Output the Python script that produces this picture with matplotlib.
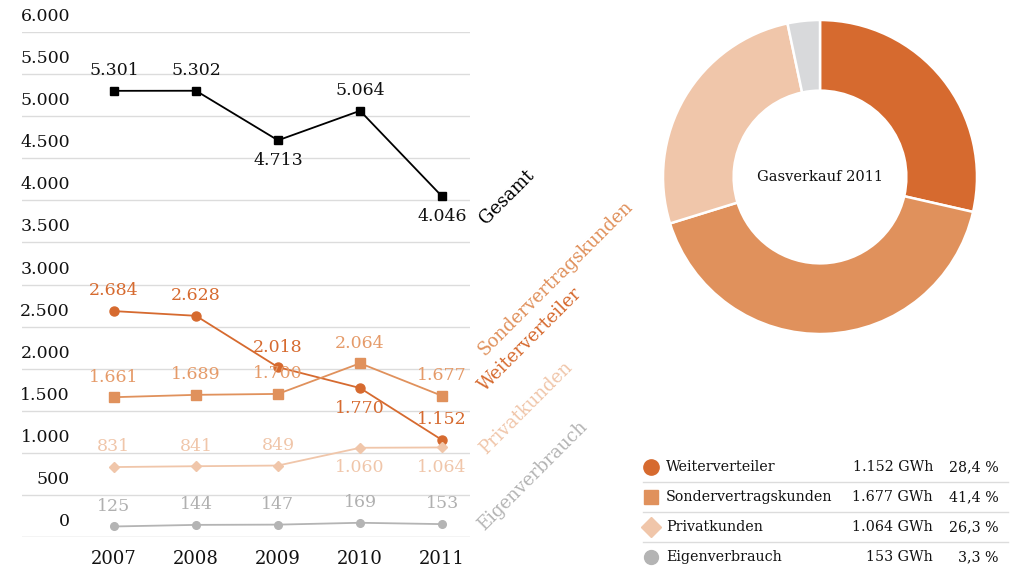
import matplotlib
matplotlib.use("Agg")
import matplotlib.pyplot as plt

plt.rcParams['font.family'] = ['DejaVu Serif']

# data
years = [2007, 2008, 2009, 2010, 2011]
gesamt = [5301, 5302, 4713, 5064, 4046]
weiterverteiler = [2684, 2628, 2018, 1770, 1152]
sondervertrag = [1661, 1689, 1700, 2064, 1677]
privatkunden = [831, 841, 849, 1060, 1064]
eigenverbrauch = [125, 144, 147, 169, 153]

# label above (+1) or below (-1) the point
pos_gesamt = [1, 1, -1, 1, -1]
pos_weiter = [1, 1, 1, -1, 1]
pos_sonder = [1, 1, 1, 1, 1]
pos_privat = [1, 1, 1, -1, -1]
pos_eigen = [1, 1, 1, 1, 1]

y_ticks = [0, 500, 1000, 1500, 2000, 2500, 3000, 3500, 4000, 4500, 5000, 5500, 6000]

pie_labels = ["Weiterverteiler", "Sondervertragskunden", "Privatkunden", "Eigenverbrauch"]
pie_gwh = [1152, 1677, 1064, 153]
pie_share = [28.4, 41.4, 26.3, 3.3]

c_black = "#000000"
c_weiter = "#D66A2F"
c_sonder = "#E0915C"
c_privat = "#F0C6AA"
c_eigen_line = "#B4B4B4"
c_eigen_pie = "#D8D9DB"

W, H = 1011, 566
fig = plt.figure(figsize=(W / 100, H / 100), dpi=100)

# line chart
ax = fig.add_axes([22 / W, (H - 537) / H, 448 / W, 505 / H])
ax.set_xlim(2005.88, 2011.34)
ax.set_ylim(0, 6000)
for s in ax.spines.values():
    s.set_visible(False)
for v in y_ticks:
    ax.axhline(v, color="#DCDCDC" if v else "#C8C8C8", lw=1, zorder=0)
    ax.annotate(f"{v:,}".replace(",", "."), xy=(0, v), xycoords=("axes fraction", "data"),
                xytext=(48 * 0.72, 5), textcoords="offset points",
                ha="right", va="bottom", fontsize=12.5, color="#111111")
ax.set_yticks([])
ax.set_xticks(years)
ax.set_xticklabels([str(y) for y in years], fontsize=13, color="#111111")
ax.tick_params(axis="x", length=0, pad=9)

series = [
    (gesamt, pos_gesamt, c_black, "s", 6, "#111111"),
    (weiterverteiler, pos_weiter, c_weiter, "o", 6.5, c_weiter),
    (sondervertrag, pos_sonder, c_sonder, "s", 6.5, "#E59A68"),
    (privatkunden, pos_privat, c_privat, "D", 5.5, c_privat),
    (eigenverbrauch, pos_eigen, c_eigen_line, "o", 5.5, "#B0B0B0"),
]
for vals, pos, c, mk, ms, tc in series:
    ax.plot(years, vals, color=c, lw=1.3, marker=mk, markersize=ms,
            markerfacecolor=c, markeredgecolor=c, zorder=3, clip_on=False)
    for x, v, p in zip(years, vals, pos):
        ax.annotate(f"{v:,}".replace(",", "."), xy=(x, v), xytext=(0, 14.5 * p),
                    textcoords="offset points", ha="center", va="center",
                    fontsize=12.5, color=tc)

# rotated series names
names = [
    ("Gesamt", 506.7, 197.5, c_black),
    ("Sondervertragskunden", 556, 278, c_sonder),
    ("Weiterverteiler", 530, 340, c_weiter),
    ("Privatkunden", 526, 408, c_privat),
    ("Eigenverbrauch", 533, 476, c_eigen_line),
]
for txt, x, y, c in names:
    fig.text(x / W, 1 - y / H, txt, rotation=45, ha="center", va="center",
             fontsize=13, color=c)

# donut
ax2 = fig.add_axes([(820 - 157) / W, (H - 177 - 157) / H, 314 / W, 314 / H])
ax2.pie(pie_share, colors=[c_weiter, c_sonder, c_privat, c_eigen_pie],
        startangle=90, counterclock=False, radius=1,
        wedgeprops=dict(width=0.45, edgecolor="white", linewidth=1.8))
ax2.set_xlim(-1, 1)
ax2.set_ylim(-1, 1)
ax2.set_aspect("equal")
ax2.text(0, 0, "Gasverkauf 2011", ha="center", va="center", fontsize=10.5, color="#111111")

# legend table
ov = fig.add_axes([0, 0, 1, 1], facecolor="none")
ov.set_xlim(0, W)
ov.set_ylim(H, 0)
ov.axis("off")
markers = [("o", 11, c_weiter), ("s", 10, c_sonder), ("D", 10, c_privat), ("o", 10, "#B4B4B4")]
row_y = [467, 497, 527, 557]
for i, (lbl, g, sh) in enumerate(zip(pie_labels, pie_gwh, pie_share)):
    y = row_y[i]
    mk, ms, c = markers[i]
    ov.plot([651], [y], marker=mk, markersize=ms, color=c, markeredgecolor=c)
    ov.text(666, y, lbl, ha="left", va="center", fontsize=10.3, color="#111111")
    ov.text(933, y, f"{g:,} GWh".replace(",", "."), ha="right", va="center",
            fontsize=10.3, color="#111111")
    ov.text(999, y, f"{sh:.1f} %".replace(".", ","), ha="right", va="center",
            fontsize=10.3, color="#111111")
    if i < 3:
        ov.plot([643, 1008], [y + 15, y + 15], color="#DCDCDC", lw=1)

fig.savefig("out.png", dpi=100)
